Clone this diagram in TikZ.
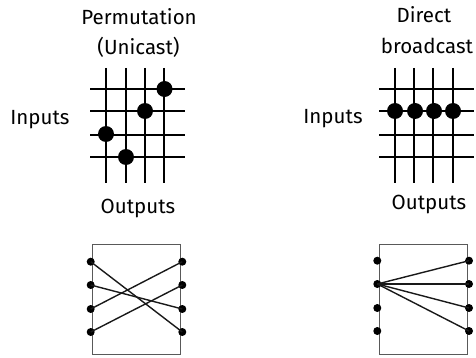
\documentclass[tikz,border=0pt]{standalone}
\usepackage{fontspec}
\setmainfont{Fira Sans}
\usepackage{xcolor}

\begin{document}
\begin{tikzpicture}[
    x=1pt, y=-1pt,
    label/.style={inner sep=0pt, font=\fontsize{20.5}{20.5}\selectfont},
    gridline/.style={line width=1.8pt, black},
    frame/.style={draw=black!65, line width=1pt},
    xpoint/.style={circle, fill=black, inner sep=0pt, minimum size=16pt},
    port/.style={circle, fill=black, inner sep=0pt, minimum size=8pt},
    wire/.style={line width=1.4pt, black!90}
]
\useasboundingbox (0,0) rectangle (476,358);
% left crossbar
\node[label] (permtitle) at (139,17) {Permutation};
\node[label] (unicast) at (138.5,47) {(Unicast)};
\node[label] (leftin) at (40,120) {Inputs};
\node[label] (leftout) at (138,208) {Outputs};
\draw[gridline] (106,68) -- (106,183);
\draw[gridline] (125.7,68) -- (125.7,183);
\draw[gridline] (144.7,68) -- (144.7,183);
\draw[gridline] (164,68) -- (164,183);
\draw[gridline] (90,89) -- (185,89);
\draw[gridline] (90,111.3) -- (185,111.3);
\draw[gridline] (90,135) -- (185,135);
\draw[gridline] (90,157.3) -- (185,157.3);
\node[xpoint] (lp1) at (164.5,89) {};
\node[xpoint] (lp2) at (145,111) {};
\node[xpoint] (lp3) at (106,134) {};
\node[xpoint] (lp4) at (126,157) {};
% right crossbar
\node[label] (directtitle) at (424,15) {Direct};
\node[label] (bcast) at (427,46) {broadcast};
\node[label] (rightin) at (333,119) {Inputs};
\node[label] (rightout) at (429,204) {Outputs};
\draw[gridline] (394.7,68) -- (394.7,183);
\draw[gridline] (414,68) -- (414,183);
\draw[gridline] (433.3,68) -- (433.3,183);
\draw[gridline] (452.7,68) -- (452.7,183);
\draw[gridline] (379,89) -- (474,89);
\draw[gridline] (379,111.3) -- (474,111.3);
\draw[gridline] (379,135) -- (474,135);
\draw[gridline] (379,157.3) -- (474,157.3);
\node[xpoint] (rp1) at (395,111) {};
\node[xpoint] (rp2) at (415,111) {};
\node[xpoint] (rp3) at (434,111) {};
\node[xpoint] (rp4) at (453,111) {};
% left box
\draw[frame] (92.7,244.7) rectangle (180.7,354);
\node[port] (la1) at (90.7,261.7) {};
\node[port] (la2) at (90.7,285) {};
\node[port] (la3) at (90.7,309) {};
\node[port] (la4) at (90.7,332) {};
\node[port] (lb1) at (182.3,261.7) {};
\node[port] (lb2) at (182.3,285) {};
\node[port] (lb3) at (182.3,309) {};
\node[port] (lb4) at (182.3,332) {};
\draw[wire] (la1.center) -- (lb4.center);
\draw[wire] (la2.center) -- (lb3.center);
\draw[wire] (la3.center) -- (lb1.center);
\draw[wire] (la4.center) -- (lb2.center);
% right box
\draw[frame] (379.3,244.7) rectangle (467,354);
\node[port] (ra1) at (377.3,260.7) {};
\node[port] (ra2) at (377.3,284) {};
\node[port] (ra3) at (377.3,308) {};
\node[port] (ra4) at (377.3,331) {};
\node[port] (rb1) at (469,260.7) {};
\node[port] (rb2) at (469,284) {};
\node[port] (rb3) at (469,308) {};
\node[port] (rb4) at (469,331) {};
\draw[wire] (ra2.center) -- (rb1.center);
\draw[wire] (ra2.center) -- (rb2.center);
\draw[wire] (ra2.center) -- (rb3.center);
\draw[wire] (ra2.center) -- (rb4.center);
\end{tikzpicture}
\end{document}
